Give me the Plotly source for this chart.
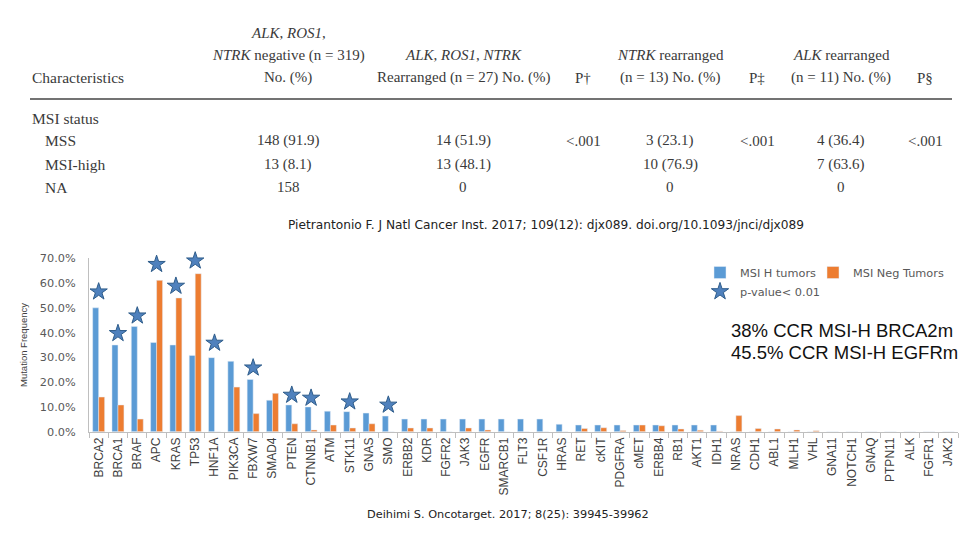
import plotly.graph_objects as go

# ---------------- data ----------------
genes = ["BRCA2", "BRCA1", "BRAF", "APC", "KRAS", "TP53", "HNF1A", "PIK3CA", "FBXW7", "SMAD4",
         "PTEN", "CTNNB1", "ATM", "STK11", "GNAS", "SMO", "ERBB2", "KDR", "FGFR2", "JAK3",
         "EGFR", "SMARCB1", "FLT3", "CSF1R", "HRAS", "RET", "cKIT", "PDGFRA", "cMET", "ERBB4",
         "RB1", "AKT1", "IDH1", "NRAS", "CDH1", "ABL1", "MLH1", "VHL", "GNA11", "NOTCH1",
         "GNAQ", "PTPN11", "ALK", "FGFR1", "JAK2"]
msi_h = [50.0, 35.0, 42.5, 36.0, 35.0, 30.8, 29.9, 28.4, 21.1, 12.7,
         10.8, 10.0, 8.3, 8.1, 7.5, 6.3, 5.1, 5.1, 5.1, 5.1,
         5.1, 5.1, 5.1, 5.1, 3.0, 2.7, 2.7, 2.7, 2.7, 2.7,
         2.7, 2.7, 2.7, 0, 0, 0, 0, 0, 0, 0,
         0, 0, 0, 0, 0]
msi_neg = [14.0, 10.8, 5.1, 61.1, 54.0, 63.8, 0, 18.0, 7.3, 15.5,
           3.2, 0.7, 2.7, 1.5, 3.2, 0, 1.5, 1.5, 0, 1.5,
           0.7, 0, 0, 0, 0, 1.3, 1.6, 0.5, 2.7, 2.4,
           1.1, 0.6, 0.2, 6.5, 1.3, 1.1, 0.7, 0.4, 0, 0,
           0, 0, 0, 0, 0]
star_genes = ["BRCA2", "BRCA1", "BRAF", "APC", "KRAS", "TP53", "HNF1A", "FBXW7",
              "PTEN", "CTNNB1", "STK11", "SMO"]
star_y = [56.5, 39.7, 46.8, 67.6, 58.8, 69.0, 35.8, 25.8, 14.8, 13.6, 12.1, 10.8]

y_ticks = [0, 10, 20, 30, 40, 50, 60, 70]
y_tick_labels = ["0.0%", "10.0%", "20.0%", "30.0%", "40.0%", "50.0%", "60.0%", "70.0%"]

# table contents
col_x = [288, 463, 583, 670, 757, 841, 925]
rows = [
    ("MSS", ["148 (91.9)", "14 (51.9)", "<.001", "3 (23.1)", "<.001", "4 (36.4)", "<.001"]),
    ("MSI-high", ["13 (8.1)", "13 (48.1)", "", "10 (76.9)", "", "7 (63.6)", ""]),
    ("NA", ["158", "0", "", "0", "", "0", ""]),
]

W, H = 960, 540
BLUE = "#5B9BD5"
ORANGE = "#ED7D31"

fig = go.Figure()
fig.add_trace(go.Bar(x=genes, y=msi_h, name="MSI H tumors", marker_color=BLUE,
                     showlegend=True, legend="legend"))
fig.add_trace(go.Bar(x=genes, y=msi_neg, name="MSI Neg Tumors", marker_color=ORANGE,
                     showlegend=True, legend="legend3"))
fig.add_trace(go.Scatter(x=star_genes, y=star_y, mode="markers", name="p-value< 0.01",
                         cliponaxis=False, showlegend=True,
                         marker=dict(symbol="star", size=13, color="#4F81BD",
                                     line=dict(color="#2E5C8A", width=1)),
                         legend="legend2"))

px = lambda v: v / W
py = lambda v: 1 - v / H

LEGFONT = dict(family="DejaVu Sans", size=11.3, color="#595959")

fig.update_layout(
    width=W, height=H,
    showlegend=True,
    margin=dict(l=0, r=0, t=0, b=0, autoexpand=False),
    paper_bgcolor="white", plot_bgcolor="white",
    barmode="group", bargap=0.38, bargroupgap=0.0,
    font=dict(family="DejaVu Sans", color="#595959"),
    xaxis=dict(domain=[px(89), px(958)], type="category", automargin=False,
               range=[-0.5, len(genes) - 0.5],
               showline=True, linecolor="#BFBFBF", linewidth=1,
               ticks="outside", tickson="boundaries", ticklen=5, tickcolor="#BFBFBF",
               tickangle=-90, tickfont=dict(family="Liberation Sans", size=12, color="#404040"),
               showgrid=False, zeroline=False),
    yaxis=dict(domain=[py(431.7), py(258.3)], range=[0, 70], automargin=False,
               tickvals=y_ticks, ticktext=y_tick_labels, ticklabelstandoff=10,
               showline=True, linecolor="#BFBFBF", linewidth=1,
               ticks="", showgrid=False, zeroline=False,
               tickfont=dict(family="DejaVu Sans", size=11.3, color="#595959"),
               title=dict(text="Mutation Frequency", standoff=10,
                          font=dict(family="Liberation Sans", size=9.5, color="#404040"))),
    legend=dict(visible=True, orientation="h", x=px(700), y=py(258), xanchor="left", yanchor="top",
                bgcolor="rgba(0,0,0,0)", font=LEGFONT, itemwidth=30),
    legend3=dict(visible=True, orientation="h", x=px(813), y=py(258), xanchor="left", yanchor="top",
                 bgcolor="rgba(0,0,0,0)", font=LEGFONT, itemwidth=30),
    legend2=dict(visible=True, orientation="h", x=px(700), y=py(277), xanchor="left", yanchor="top",
                 bgcolor="rgba(0,0,0,0)", font=LEGFONT, itemwidth=30),
)

ann = []
SERIF = "Liberation Serif"
TC = "#3a3a3a"


def t(x, y, text, anchor="center", size=15, family=SERIF, color=TC):
    ann.append(dict(x=px(x), y=py(y), xref="paper", yref="paper", text=text,
                    showarrow=False, xanchor=anchor, yanchor="middle",
                    font=dict(family=family, size=size, color=color)))


# table header
t(288, 33, "<i>ALK</i>, <i>ROS1</i>,")
t(288, 55, "<i>NTRK</i> negative (n = 319)")
t(288, 78, "No. (%)")
t(30, 78, "Characteristics", anchor="left", size=15.5)
t(463, 55, "<i>ALK</i>, <i>ROS1</i>, <i>NTRK</i>")
t(463, 78, "Rearranged (n = 27) No. (%)")
t(583, 78, "P†")
t(670, 55, "<i>NTRK</i> rearranged")
t(670, 78, "(n = 13) No. (%)")
t(757, 78, "P‡")
t(841, 55, "<i>ALK</i> rearranged")
t(841, 78, "(n = 11) No. (%)")
t(925, 78, "P§")
t(30, 118, "MSI status", anchor="left", size=15.5)
for i, (label, vals) in enumerate(rows):
    yy = 141 + i * 23
    t(43, yy, label, anchor="left", size=15.5)
    for cx, v in zip(col_x, vals):
        if v:
            t(cx, yy, v.replace("<", "&lt;"))

# citations and notes
t(546, 225, "Pietrantonio F. J Natl Cancer Inst. 2017; 109(12): djx089. doi.org/10.1093/jnci/djx089",
  size=12.2, family="DejaVu Sans", color="#222222")
t(508, 514, "Deihimi S. Oncotarget. 2017; 8(25): 39945-39962",
  size=11.3, family="DejaVu Sans", color="#222222")
t(729, 330, "38% CCR MSI-H BRCA2m", anchor="left", size=18.5, family="Liberation Sans", color="#111111")
t(729, 352, "45.5% CCR MSI-H EGFRm", anchor="left", size=18.5, family="Liberation Sans", color="#111111")

fig.update_layout(annotations=ann)
fig.add_shape(type="line", xref="paper", yref="paper", x0=px(30), x1=px(952),
              y0=py(99), y1=py(99), line=dict(color="#444444", width=1.5))

fig.write_html("out.html", config={"displayModeBar": False},
               post_script="document.body.style.margin='0';document.body.style.padding='0';")
